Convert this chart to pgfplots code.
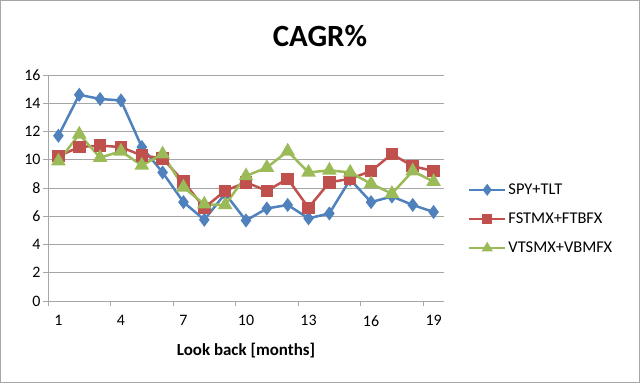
\documentclass[border=0pt]{standalone}
\usepackage{pgfplots}
\pgfplotsset{compat=1.18}
\usepackage{fontspec}
\setmainfont{Carlito}
\definecolor{cblue}{HTML}{4F81BD}
\definecolor{cred}{HTML}{C0504D}
\definecolor{cgreen}{HTML}{9BBB59}
\definecolor{cgrid}{HTML}{A6A6A6}
\begin{document}
\begin{tikzpicture}
\path[use as bounding box] (0,0) rectangle (640bp,383bp);
\draw[gray!70, line width=1bp] (0.5bp,0.5bp) rectangle (639.5bp,382.5bp);
\node[font=\bfseries\fontsize{31}{36}\selectfont] at (320bp,347bp) {CAGR\%};
\begin{axis}[
  at={(48bp,82bp)}, anchor=south west,
  scale only axis, width=396bp, height=226bp,
  xmin=0.5, xmax=19.5, ymin=0, ymax=16,
  xtick={1,4,7,10,13,16,19},
  ytick={0,2,...,16},
  major tick length=0pt,
  extra x ticks={0.5,3.5,6.5,9.5,12.5,15.5,18.5},
  extra x tick labels={},
  extra x tick style={major tick length=5bp, tick style={cgrid, line width=0.8bp}, tick align=outside, grid=none},
  extra y ticks={0,2,...,16},
  extra y tick labels={},
  extra y tick style={major tick length=5bp, tick style={cgrid, line width=0.8bp}, tick align=outside},
  ymajorgrids, grid style={cgrid, line width=0.8bp},
  axis x line*=bottom, axis y line*=left,
  axis line style={cgrid, line width=0.8bp, -},
  tick label style={font=\fontsize{16}{18}\selectfont, black},
  /pgf/number format/assume math mode=true,
  yticklabel style={xshift=-4bp},
  xticklabel style={yshift=-11bp},
  xlabel={\textbf{Look back [months]}},
  xlabel style={font=\fontsize{17}{20}\selectfont, yshift=-5bp},
  legend style={at={(1.06,0.363)}, anchor=west, draw=none, fill=none,
    font=\fontsize{16.5}{19}\selectfont, row sep=13bp, inner xsep=0pt,
    /tikz/every even column/.append style={column sep=0pt}},
  legend cell align=left,
  legend image code/.code={
    \draw[#1] (0bp,0bp) -- (36bp,0bp);
    \draw[#1, only marks, mark size=4bp] plot coordinates {(18bp,0bp)};
  },
]
\addplot[cblue, line width=2.5bp, mark=diamond*, mark size=5bp, mark options={solid}] coordinates {
(1,11.7)(2,14.6)(3,14.3)(4,14.2)(5,10.9)(6,9.1)(7,7.0)(8,5.75)(9,7.6)(10,5.7)
(11,6.55)(12,6.8)(13,5.85)(14,6.2)(15,8.6)(16,7.0)(17,7.4)(18,6.8)(19,6.3)};
\addlegendentry{SPY+TLT}
\addplot[cred, line width=2.5bp, mark=square*, mark size=5bp, mark options={solid}] coordinates {
(1,10.25)(2,10.9)(3,11.0)(4,10.9)(5,10.3)(6,10.1)(7,8.45)(8,6.6)(9,7.8)(10,8.4)
(11,7.8)(12,8.65)(13,6.6)(14,8.4)(15,8.65)(16,9.2)(17,10.4)(18,9.55)(19,9.2)};
\addlegendentry{FSTMX+FTBFX}
\addplot[cgreen, line width=2.5bp, mark=triangle*, mark size=6bp, mark options={solid}] coordinates {
(1,9.9)(2,11.8)(3,10.15)(4,10.6)(5,9.6)(6,10.4)(7,8.05)(8,6.85)(9,6.8)(10,8.85)
(11,9.45)(12,10.6)(13,9.1)(14,9.25)(15,9.1)(16,8.3)(17,7.6)(18,9.2)(19,8.45)};
\addlegendentry{VTSMX+VBMFX}
\end{axis}
\end{tikzpicture}
\end{document}
